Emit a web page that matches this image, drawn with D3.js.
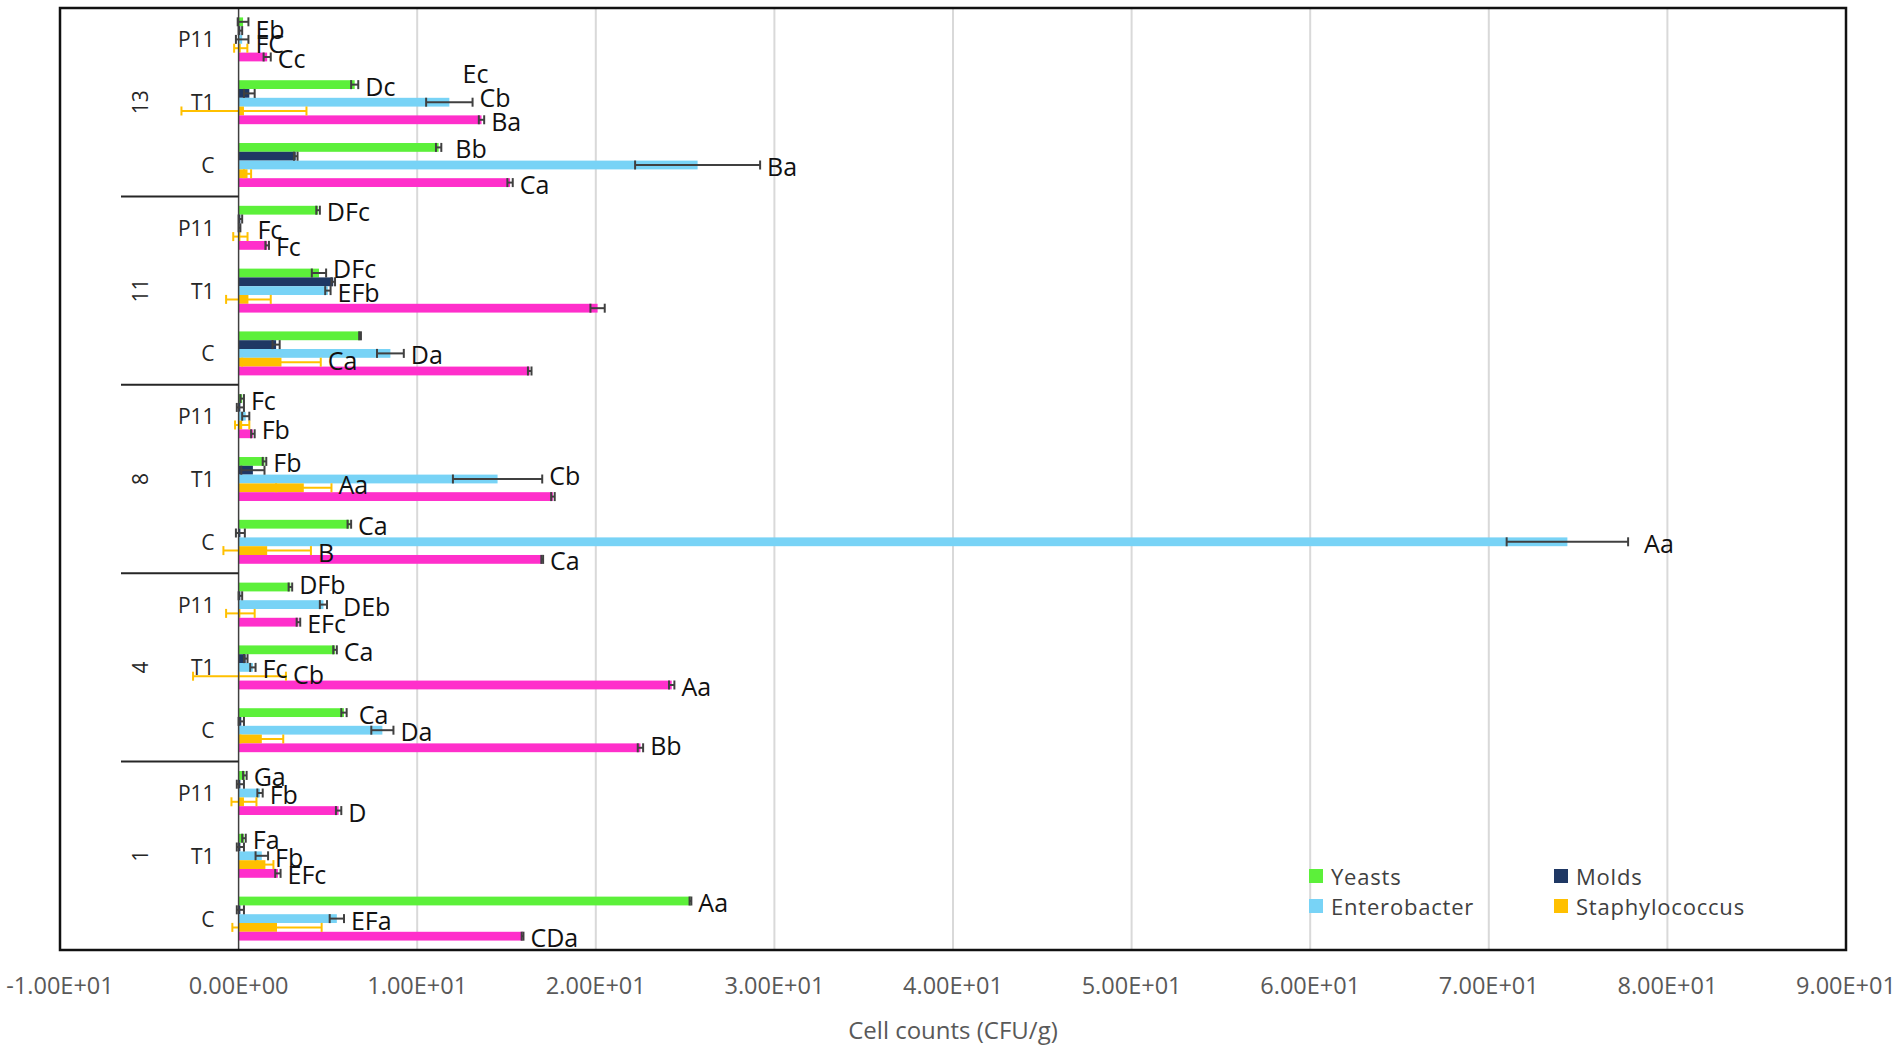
<!DOCTYPE html>
<html><head><meta charset="utf-8">
<script src="https://cdn.jsdelivr.net/npm/d3@7/dist/d3.min.js"></script>
<style>
body{margin:0;background:#fff}
svg{display:block}
text{font-family:"Open Sans",sans-serif}
</style>
</head><body>
<svg id="chart" width="1902" height="1051"></svg>
<script>
// ---------------- DATA ----------------
const days = ["1", "4", "8", "11", "13"];
const treatments = ["C", "T1", "P11"];
// order of every array: 1C,1T1,1P11, 4C,4T1,4P11, 8C,8T1,8P11, 11C,11T1,11P11, 13C,13T1,13P11
const yeasts      = [25.3, 0.3, 0.35, 5.9, 5.4, 2.9, 6.2, 1.45, 0.2, 6.8, 4.5, 4.45, 11.2, 6.5, 0.25];
const yeastsErr   = [0.05, 0.1, 0.1, 0.15, 0.1, 0.1, 0.1, 0.1, 0.1, 0.05, 0.4, 0.1, 0.15, 0.2, 0.3];
const molds       = [0.1, 0.1, 0.1, 0.15, 0.4, 0.1, 0.1, 0.8, 0.1, 2.1, 5.3, 0.1, 3.2, 0.6, 0.1];
const moldsErr    = [0.2, 0.2, 0.2, 0.15, 0.1, 0.1, 0.25, 0.65, 0.2, 0.2, 0.1, 0.1, 0.1, 0.3, 0.1];
const entero      = [5.5, 1.3, 1.2, 8.05, 0.8, 4.75, 74.4, 14.5, 0.4, 8.5, 5.0, 0.05, 25.7, 11.8, 0.2];
const enteroErr   = [0.4, 0.35, 0.15, 0.62, 0.15, 0.2, 3.4, 2.5, 0.2, 0.75, 0.15, 0.05, 3.5, 1.3, 0.35];
const staph       = [2.15, 1.5, 0.3, 1.3, 0.05, 0.1, 1.6, 3.65, 0.2, 2.4, 0.55, 0.1, 0.5, 0.3, 0.12];
const staphErr    = [2.5, 0.45, 0.7, 1.2, 2.6, 0.8, 2.45, 1.55, 0.4, 2.2, 1.25, 0.4, 0.2, 3.5, 0.37];
const total       = [15.9, 2.2, 5.6, 22.5, 24.25, 3.35, 17.0, 17.6, 0.8, 16.3, 20.1, 1.6, 15.2, 13.6, 1.6];
const totalErr    = [0.05, 0.15, 0.15, 0.15, 0.15, 0.1, 0.05, 0.1, 0.1, 0.1, 0.4, 0.1, 0.15, 0.15, 0.2];

const yeastsLbl = ["Aa","Fa","Ga","Ca","Ca","DFb","Ca","Fb","Fc",null,"DFc","DFc","Bb","Dc","Eb"];
const moldsLbl  = [null,null,null,null,null,null,null,null,null,null,null,null,null,"Ec",null];
const enteroLbl = ["EFa","Fb","Fb","Da","Fc","DEb","Aa","Cb",null,"Da","EFb","Fc","Ba","Cb","FC"];
const staphLbl  = [null,null,null,null,"Cb",null,"B","Aa",null,"Ca",null,null,null,null,null];
const totalLbl  = ["CDa","EFc","D","Bb","Aa","EFc","Ca",null,"Fb",null,null,"Fc","Ca","Ba","Cc"];

const seriesNames = ["Yeasts", "Molds", "Enterobacter", "Staphylococcus", "Total"];
const legendNames = ["Yeasts", "Molds", "Enterobacter", "Staphylococcus"];
const xTickValues = [-10, 0, 10, 20, 30, 40, 50, 60, 70, 80, 90];
const xTitle = "Cell counts (CFU/g)";

// ---------------- STYLE / LAYOUT ----------------
const colors = {Yeasts:"#5cf03a", Molds:"#1f3864", Enterobacter:"#78d3f6", Staphylococcus:"#ffc000", Total:"#ff2fcb"};
const errColors = {Yeasts:"#404040", Molds:"#404040", Enterobacter:"#404040", Staphylococcus:"#ffc000", Total:"#404040"};
// label nudges: "series|index" -> [dx, dy, anchorSeries]
const nudges = {
  "Molds|13": [-17, -30, "Enterobacter"],
  "Enterobacter|13": [0, -6],
  "Enterobacter|11": [10, 0],
  "Enterobacter|5": [9, 0],
  "Yeasts|12": [7, 0],
  "Yeasts|3": [5, 0],
  "Enterobacter|6": [9, 0],
  "Yeasts|14": [0, 6],
  "Enterobacter|14": [0, 3],
  "Yeasts|10": [0, -6],
  "Enterobacter|7": [0, -5],
  "Staphylococcus|7": [0, -5],
  "Total|8": [0, -6],
  "Staphylococcus|9": [0, -3],
  "Yeasts|5": [0, -4],
  "Staphylococcus|4": [0, -3],
  "Total|3": [0, -4]
};

const series = [
  {name:"Yeasts", v:yeasts, e:yeastsErr, l:yeastsLbl},
  {name:"Molds", v:molds, e:moldsErr, l:moldsLbl},
  {name:"Enterobacter", v:entero, e:enteroErr, l:enteroLbl},
  {name:"Staphylococcus", v:staph, e:staphErr, l:staphLbl},
  {name:"Total", v:total, e:totalErr, l:totalLbl}
];

const plot = {left:60, right:1846, top:8, bottom:950};
const svg = d3.select("#chart");

const cats = days.flatMap(d => treatments.map(t => d + "|" + t));
const x = d3.scaleLinear().domain([-10, 90]).range([plot.left, plot.right]);
const y = d3.scaleBand().domain(cats).range([plot.bottom, plot.top]).paddingInner(0.3).paddingOuter(0.15);
const ys = d3.scaleBand().domain(seriesNames).range([0, y.bandwidth()]);

// gridlines
svg.append("g").selectAll("line").data(xTickValues.filter(v => v > 0 && v < 90)).join("line")
  .attr("x1", d => x(d)).attr("x2", d => x(d))
  .attr("y1", plot.top).attr("y2", plot.bottom)
  .attr("stroke", "#d9d9d9").attr("stroke-width", 2);

// bars
const gBars = svg.append("g");
series.forEach(s => {
  gBars.append("g").selectAll("rect").data(cats).join("rect")
    .attr("x", (c, i) => x(Math.min(0, s.v[i])))
    .attr("width", (c, i) => Math.abs(x(s.v[i]) - x(0)))
    .attr("y", c => y(c) + ys(s.name))
    .attr("height", ys.bandwidth())
    .attr("fill", colors[s.name]);
});

// error bars
const gErr = svg.append("g");
const capH = 9;
series.forEach(s => {
  const g = gErr.append("g").attr("stroke", errColors[s.name]).attr("stroke-width", 2).attr("fill", "none");
  cats.forEach((c, i) => {
    const cy = y(c) + ys(s.name) + ys.bandwidth() / 2;
    const lo = x(s.v[i] - s.e[i]), hi = x(s.v[i] + s.e[i]);
    g.append("line").attr("x1", lo).attr("x2", hi).attr("y1", cy).attr("y2", cy);
    g.append("line").attr("x1", lo).attr("x2", lo).attr("y1", cy - capH / 2).attr("y2", cy + capH / 2);
    g.append("line").attr("x1", hi).attr("x2", hi).attr("y1", cy - capH / 2).attr("y2", cy + capH / 2);
  });
});

// value axis line at 0
svg.append("line").attr("x1", x(0)).attr("x2", x(0)).attr("y1", plot.top).attr("y2", plot.bottom)
  .attr("stroke", "#404040").attr("stroke-width", 1.5);

// data labels
const gLbl = svg.append("g").attr("font-size", 25).attr("fill", "#111");
series.forEach(s => {
  cats.forEach((c, i) => {
    const t = s.l[i];
    if (!t) return;
    const n = nudges[s.name + "|" + i] || [0, 0];
    const anchor = n[2] ? series.find(q => q.name === n[2]) : s;
    const ex = x(anchor.v[i] + anchor.e[i]);
    const cy = y(c) + ys(anchor.name) + ys.bandwidth() / 2;
    gLbl.append("text").attr("x", ex + 7 + n[0]).attr("y", cy + n[1] + 1)
      .attr("dominant-baseline", "central").text(t);
  });
});

// frame
svg.append("rect").attr("x", plot.left).attr("y", plot.top)
  .attr("width", plot.right - plot.left).attr("height", plot.bottom - plot.top)
  .attr("fill", "none").attr("stroke", "#111").attr("stroke-width", 2.5);

// category labels (treatments)
svg.append("g").selectAll("text").data(cats).join("text")
  .attr("x", x(0) - 24).attr("y", c => y(c) + y.bandwidth() / 2)
  .attr("text-anchor", "end").attr("dominant-baseline", "central")
  .attr("font-size", 21).attr("fill", "#262626")
  .text(c => c.split("|")[1]);

// group labels and separators
const half = (y.step() - y.bandwidth()) / 2;
days.forEach((d, k) => {
  const top = y(d + "|" + treatments[treatments.length - 1]) - half;
  const bot = y(d + "|" + treatments[0]) + y.bandwidth() + half;
  svg.append("text").attr("transform", `translate(${plot.left + 80},${(top + bot) / 2}) rotate(-90)`)
    .attr("text-anchor", "middle").attr("dominant-baseline", "central")
    .attr("font-size", 21).attr("fill", "#262626").text(d);
  if (k > 0) {
    svg.append("line").attr("x1", plot.left + 61).attr("x2", x(0))
      .attr("y1", bot).attr("y2", bot).attr("stroke", "#262626").attr("stroke-width", 2);
  }
});

// x tick labels
function sci(v) {
  if (v === 0) return "0.00E+00";
  const e = Math.floor(Math.log10(Math.abs(v)));
  const m = v / Math.pow(10, e);
  return m.toFixed(2) + "E" + (e >= 0 ? "+" : "-") + String(Math.abs(e)).padStart(2, "0");
}
svg.append("g").selectAll("text").data(xTickValues).join("text")
  .attr("x", d => x(d)).attr("y", 985)
  .attr("text-anchor", "middle").attr("dominant-baseline", "central")
  .attr("font-size", 23.5).attr("fill", "#595959")
  .text(d => sci(d));

svg.append("text").attr("x", (plot.left + plot.right) / 2).attr("y", 1029)
  .attr("text-anchor", "middle").attr("dominant-baseline", "central")
  .attr("font-size", 24).attr("fill", "#595959").text(xTitle);

// legend
const legPos = [[1309, 876], [1554, 876], [1309, 906], [1554, 906]];
legendNames.forEach((nm, i) => {
  const [lx, ly] = legPos[i];
  svg.append("rect").attr("x", lx).attr("y", ly - 7).attr("width", 14).attr("height", 14).attr("fill", colors[nm]);
  svg.append("text").attr("x", lx + 22).attr("y", ly).attr("dominant-baseline", "central")
    .attr("font-size", 22).attr("letter-spacing", 0.8).attr("fill", "#404040").text(nm);
});
</script>
</body></html>
